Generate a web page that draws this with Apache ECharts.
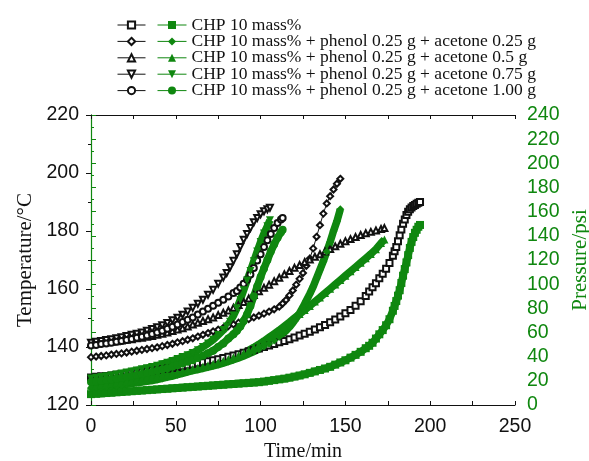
<!DOCTYPE html>
<html>
<head>
<meta charset="utf-8">
<script src="https://cdn.jsdelivr.net/npm/echarts@6/dist/echarts.min.js"></script>
<style>
  html, body { margin: 0; padding: 0; background: #fff; }
  #chart { width: 589px; height: 461px; }
</style>
</head>
<body>
<div id="chart"></div>
<script>
// legend names (one per sample)
const names = [
  "CHP 10 mass%",
  "CHP 10 mass% + phenol 0.25 g + acetone 0.25 g",
  "CHP 10 mass% + phenol 0.25 g + acetone 0.5 g",
  "CHP 10 mass% + phenol 0.25 g + acetone 0.75 g",
  "CHP 10 mass% + phenol 0.25 g + acetone 1.00 g"
];

// CHP 10 mass%
const t1 = [0,3,6,9,12,15,18,21,24,27,30,33,36,39,42,45,48,51,54,57,60,63,66,69,72,75,78,81,84,87,90,93,96,99,102,105,108,111,114,117,120,123,126,129,132,135,138,141,144,147,150,
  153,156,159,162,164,166,168,170,172,174,176,178,179,180,181,182,183,184,185,186,187,188,189,190,191,192,193,194];
const temp1 = [129.5,129.7,129.9,130.0,130.2,130.4,130.6,130.8,131.0,131.2,131.4,131.6,131.9,132.1,132.4,132.6,132.8,133.1,133.4,133.7,134.0,134.4,134.7,135.1,135.4,135.8,136.2,136.6,137.1,137.5,138.0,138.5,139.0,139.5,140.0,140.5,141.0,141.6,142.1,142.7,143.3,144.0,144.6,145.3,146.0,146.8,147.6,148.5,149.5,150.5,151.6,
  152.8,154.2,155.8,157.6,159.1,160.6,162.0,163.7,165.3,167.0,169.0,171.5,173,174.5,176.5,178.5,180.5,182.5,184,185.5,186.6,187.5,188.1,188.6,189.0,189.4,189.7,190];
const pres1 = [9,9.3,9.6,9.9,10.2,10.5,10.8,11.1,11.4,11.7,12,12.3,12.6,12.9,13.2,13.5,13.8,14.1,14.4,14.7,15,15.3,15.6,15.9,16.2,16.5,16.8,17.1,17.4,17.7,18,18.3,18.6,18.9,19.4,20,20.6,21.2,21.8,22.6,23.5,24.4,25.4,26.6,27.8,29,30.2,31.6,33.4,35.2,37,
  39.2,41.5,44,47,49,51.5,55,58.5,62,66,71,78,82,86,90.5,95,101,107,112.5,118,124,130,135,139,142.5,145,147.5,149];

// + acetone 0.25 g
const t2 = [0,3,6,9,12,15,18,21,24,27,30,33,36,39,42,45,48,51,54,57,60,63,66,69,72,75,78,81,84,87,90,93,96,99,102,105,108,111,
  113,115,117,119,121,123,125,127,129,131,133,135,137,139,141,143,145,147];
const temp2 = [136.5,136.7,136.9,137.1,137.4,137.6,137.8,138.1,138.4,138.7,139.0,139.3,139.6,139.9,140.3,140.7,141.1,141.6,142.0,142.5,143.0,143.6,144.2,144.8,145.4,146.0,146.6,147.2,147.8,148.4,149.0,149.6,150.2,150.8,151.5,152.2,153.0,153.9,
  155.0,156.2,157.8,159.5,161.5,163.5,165.5,168.0,170.5,174.0,178.0,182.0,186.0,189.5,192.0,194.3,196.3,198];
const pres2 = [14,14.3,14.6,14.9,15.3,15.9,16.5,17.1,17.8,18.4,19,19.6,20.3,21.1,22,23,24,25.1,26.2,27.4,28.5,29.4,30.3,31.3,32.4,33.5,34.7,36,37.5,39,40.6,42.4,44.2,46.2,48.4,50.7,53.3,56.5,
  59,61.5,64.5,68,72,76,81,86.5,92,98,105,112,119,127,135,144,152,162];

// + acetone 0.5 g
const t3 = [0,3,6,9,12,15,18,21,24,27,30,33,36,39,42,45,48,51,54,57,60,63,66,69,72,75,78,81,84,87,90,93,96,99,102,105,108,111,114,117,120,123,126,129,132,135,138,141,144,147,150,153,156,159,162,165,168,171,173];
const temp3 = [141,141.2,141.4,141.6,141.8,142.0,142.2,142.5,142.7,143.0,143.2,143.5,143.8,144.2,144.6,145.0,145.5,146.0,146.5,147.1,147.8,148.4,149.0,149.6,150.2,151.0,151.8,152.6,153.5,154.5,155.5,156.7,157.9,159.2,160.4,161.5,162.7,163.9,165.1,166.2,167.3,168.3,169.3,170.2,171.1,172.0,172.9,173.8,174.7,175.6,176.5,177.2,177.9,178.6,179.2,179.7,180.2,180.7,181];
const pres3 = [16,16.5,17,17.4,17.9,18.5,19.1,19.7,20.3,20.9,21.6,22.3,23.0,23.8,24.5,25.3,26.1,27.0,27.9,28.8,29.8,30.8,31.8,32.9,34.1,35.3,36.6,38,39.5,41.2,43,45.3,47.7,50.2,53,56,59,62,65.3,68.6,72,75.3,78.6,82,85.6,89,92.6,96.2,99.8,103.4,107,110.6,114.2,117.8,121.4,125,129,134,137];

// + acetone 0.75 g
const t4 = [0,3,6,9,12,15,18,21,24,27,30,33,36,39,42,45,48,51,54,57,60,63,66,69,72,75,78,
  80,82,84,86,88,90,92,94,96,98,100,102,104,105.5];
const temp4 = [141.5,141.8,142.1,142.4,142.7,143.0,143.4,143.8,144.2,144.6,145.0,145.6,146.2,146.8,147.5,148.3,149.2,150.1,151.1,152.2,153.5,154.9,156.3,158.0,159.7,161.8,164.0,
  165.5,167.5,169.7,172.0,174.5,177.0,179.0,181.0,183.0,184.5,185.8,186.8,187.5,188];
const pres4 = [22,22.6,23.2,23.8,24.5,25.2,26,26.8,27.7,28.6,29.5,30.4,31.4,32.5,33.8,35,36.5,38,39.7,41.2,43,45.4,48,50.8,54,58,62,
  65,69,74,80,87,95,103,111,119,127,135,142,148,153];

// + acetone 1.00 g
const t5 = [0,3,6,9,12,15,18,21,24,27,30,33,36,39,42,45,48,51,54,57,60,63,66,69,72,75,78,81,84,
  86,88,90,92,94,96,98,100,102,104,106,108,110,112,113];
const temp5 = [140.5,140.7,141.0,141.2,141.5,141.8,142.1,142.4,142.8,143.2,143.5,144.0,144.5,145.0,145.6,146.3,147.0,147.8,148.6,149.4,150.2,151.2,152.2,153.2,154.2,155.3,156.3,157.4,158.6,
  159.3,160.5,161.8,163.2,165.0,167.2,169.8,172.0,174.5,176.8,179.0,181.0,182.8,184.0,184.5];
const pres5 = [19,19.6,20.2,20.8,21.4,22,22.6,23.3,24,24.8,25.6,26.4,27.3,28.3,29.3,30.5,31.7,33,34.3,35.7,37,38.8,40.7,42.8,45,48,51,55,58.6,
  61.5,65,69.5,75,82,90,98,106,113,120,127,133,138.5,143,145];

const times = [t1, t2, t3, t4, t5];
const temps = [temp1, temp2, temp3, temp4, temp5];
const press = [pres1, pres2, pres3, pres4, pres5];

const xTicks = { min: 0, max: 250, interval: 50 };
const tempTicks = { min: 120, max: 220, interval: 20 };
const presTicks = { min: 0, max: 240, interval: 20 };

const GREEN = '#0f870f';
const openSymbols = ['emptyRect', 'emptyDiamond', 'emptyTriangle', 'emptyTriangle', 'emptyCircle'];
const fillSymbols = ['rect', 'diamond', 'triangle', 'triangle', 'circle'];
const rotations = [0, 0, 0, 180, 0];

function zip(xs, ys) {
  return xs.map((x, i) => [x, ys[i]]);
}

const series = [];
names.forEach((name, i) => {
  series.push({
    name: 'T' + (i + 1),
    type: 'line',
    yAxisIndex: 0,
    data: zip(times[i], temps[i]),
    symbol: openSymbols[i],
    symbolRotate: rotations[i],
    symbolSize: 6,
    showAllSymbol: true,
    color: '#111',
    lineStyle: { color: '#111', width: 1 },
    itemStyle: { color: '#111', borderWidth: 1 },
    animation: false
  });
});
names.forEach((name, i) => {
  series.push({
    name: name,
    type: 'line',
    yAxisIndex: 1,
    data: zip(times[i], press[i]),
    symbol: fillSymbols[i],
    symbolRotate: rotations[i],
    symbolSize: 8,
    showAllSymbol: true,
    color: GREEN,
    lineStyle: { color: GREEN, width: 7.5 },
    itemStyle: { color: GREEN },
    animation: false
  });
});

const legendText = { fontFamily: 'Liberation Serif', fontSize: 17.5, color: '#111', lineHeight: 16 };

const chart = echarts.init(document.getElementById('chart'), null, { renderer: 'canvas' });
chart.setOption({
  backgroundColor: '#fff',
  animation: false,
  grid: { left: 91, right: 74, top: 115, bottom: 56, outerBoundsMode: 'none', containLabel: false },
  legend: [
    {
      data: names.map((n, i) => 'T' + (i + 1)),
      orient: 'vertical',
      left: 117, top: 16, padding: 0,
      itemWidth: 28, itemHeight: 9, itemGap: -1.6,
      formatter: () => ' ',
      textStyle: legendText,
      lineStyle: { width: 1 },
      selectedMode: false
    },
    {
      data: names,
      orient: 'vertical',
      left: 157, top: 16, padding: 0,
      itemWidth: 29, itemHeight: 10, itemGap: -1.6,
      textStyle: legendText,
      lineStyle: { width: 1 },
      selectedMode: false
    }
  ],
  xAxis: [
    {
      type: 'value', position: 'bottom',
      min: xTicks.min, max: xTicks.max, interval: xTicks.interval,
      name: 'Time/min', nameLocation: 'middle', nameGap: 36,
      nameTextStyle: { fontFamily: 'Liberation Serif', fontSize: 20, color: '#111' },
      axisLine: { lineStyle: { color: '#111', width: 1 } },
      axisTick: { inside: true, length: 4, lineStyle: { color: '#111' } },
      minorTick: { show: true, splitNumber: 2, length: 4, lineStyle: { color: '#111' } },
      axisLabel: { fontFamily: 'Liberation Sans', fontSize: 19.5, color: '#111', margin: 12 },
      splitLine: { show: false }
    },
    {
      type: 'value', position: 'top',
      min: xTicks.min, max: xTicks.max, interval: xTicks.interval,
      axisLine: { lineStyle: { color: '#111', width: 1 } },
      axisTick: { inside: true, length: 4, lineStyle: { color: '#111' } },
      minorTick: { show: true, splitNumber: 2, length: 4, lineStyle: { color: '#111' } },
      axisLabel: { show: false },
      splitLine: { show: false }
    }
  ],
  yAxis: [
    {
      type: 'value', position: 'left',
      min: tempTicks.min, max: tempTicks.max, interval: tempTicks.interval,
      name: 'Temperature/°C', nameLocation: 'middle', nameGap: 54,
      nameTextStyle: { fontFamily: 'Liberation Serif', fontSize: 21, color: '#111' },
      axisLine: { show: true, lineStyle: { color: '#111', width: 1 } },
      axisTick: { show: true, inside: false, length: 5, lineStyle: { color: '#111' } },
      minorTick: { show: true, splitNumber: 2, length: 3, lineStyle: { color: '#111' } },
      axisLabel: { fontFamily: 'Liberation Sans', fontSize: 19.5, color: '#111', margin: 12 },
      splitLine: { show: false }
    },
    {
      type: 'value', position: 'right',
      min: presTicks.min, max: presTicks.max, interval: presTicks.interval,
      name: 'Pressure/psi', nameLocation: 'middle', nameGap: 55,
      nameTextStyle: { fontFamily: 'Liberation Serif', fontSize: 21, color: GREEN },
      axisLine: { show: true, lineStyle: { color: GREEN, width: 1.2 } },
      axisTick: { show: true, inside: false, length: 5, lineStyle: { color: GREEN } },
      minorTick: { show: true, splitNumber: 2, length: 3, lineStyle: { color: GREEN } },
      axisLabel: { fontFamily: 'Liberation Sans', fontSize: 19.5, color: GREEN, margin: 12 },
      splitLine: { show: false }
    }
  ],
  series: series
});
</script>
</body>
</html>
